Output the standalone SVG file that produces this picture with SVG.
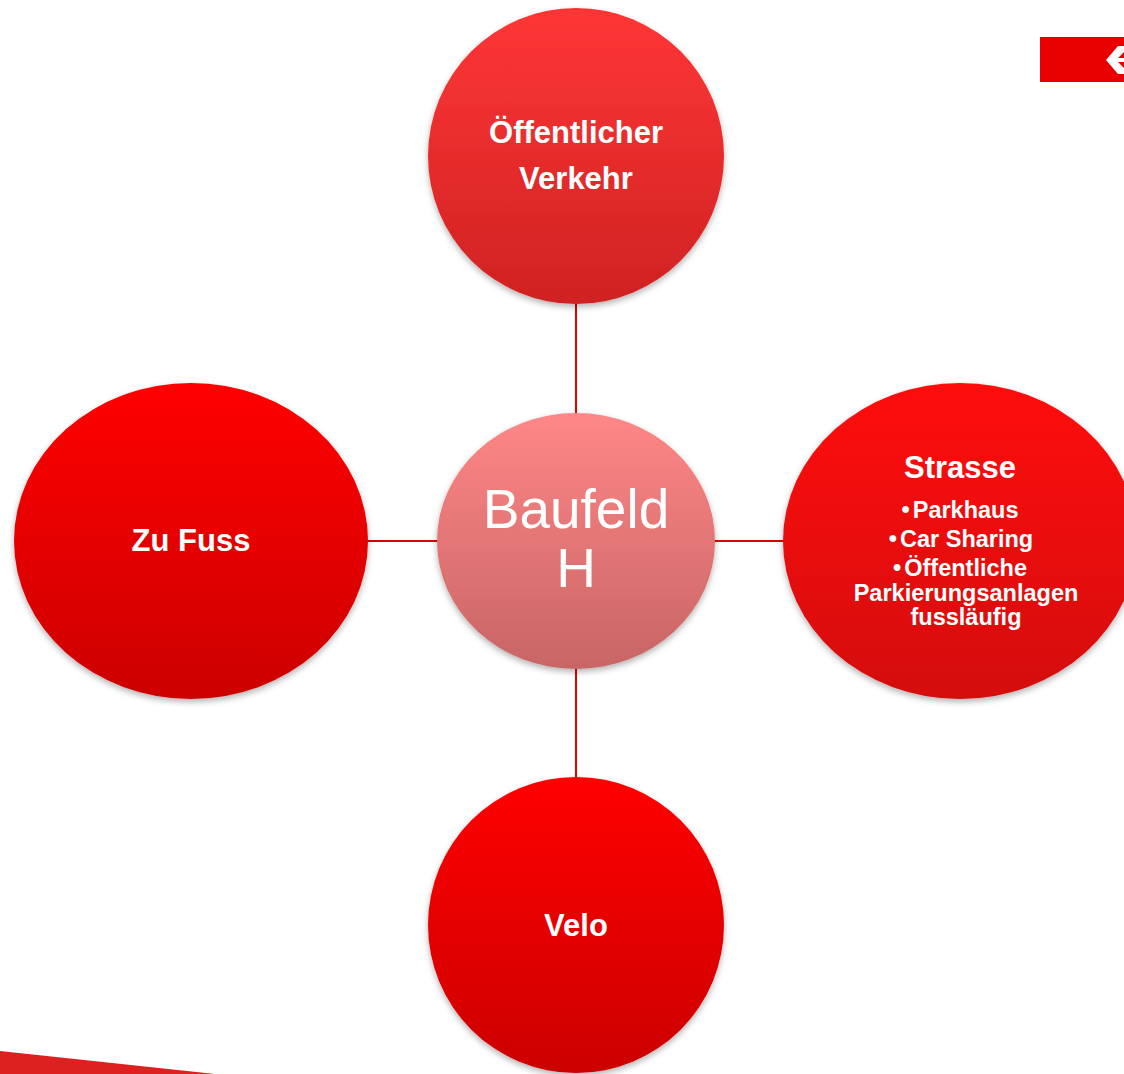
<svg xmlns="http://www.w3.org/2000/svg" width="1124" height="1074" viewBox="0 0 1124 1074">
<defs>
<linearGradient id="gTop" x1="0" y1="0" x2="0" y2="1"><stop offset="0" stop-color="#ff3636"/><stop offset="1" stop-color="#cf2222"/></linearGradient>
<linearGradient id="gCenter" x1="0" y1="0" x2="0" y2="1"><stop offset="0" stop-color="#ff8787"/><stop offset="1" stop-color="#c86565"/></linearGradient>
<linearGradient id="gRed" x1="0" y1="0" x2="0" y2="1"><stop offset="0" stop-color="#ff0505"/><stop offset="1" stop-color="#cc0000"/></linearGradient>
<linearGradient id="gRight" x1="0" y1="0" x2="0" y2="1"><stop offset="0" stop-color="#ff1010"/><stop offset="1" stop-color="#d40808"/></linearGradient>
<filter id="sh" x="-10%" y="-10%" width="120%" height="125%"><feDropShadow dx="0" dy="3" stdDeviation="3" flood-color="#000" flood-opacity="0.3"/></filter>
</defs>
<style>
.conn line{stroke:#e00000;stroke-width:2}
.t{font-family:"Liberation Sans",Arial,sans-serif;fill:#fff;text-anchor:middle}
.b{font-weight:bold}
.h{font-size:31px}
.s{font-size:23.5px}
</style>
<rect width="1124" height="1074" fill="#fff"/>
<polygon points="0,1051 215,1074 0,1074" fill="#dd2020"/>
<g id="badge">
<rect x="1040" y="37" width="84" height="45" fill="#e80000"/>
<polygon points="1106,60 1118,46 1124,46 1124,52 1118,58 1124,58 1124,62 1118,62 1124,68 1124,74 1118,74" fill="#fff"/>
</g>
<g class="conn" id="connectors">
<line x1="576" y1="303" x2="576" y2="414"/>
<line x1="576" y1="668" x2="576" y2="778"/>
<line x1="367" y1="541" x2="438" y2="541"/>
<line x1="714" y1="541" x2="784" y2="541"/>
</g>
<g id="node-oev">
<circle cx="576" cy="156" r="148" fill="url(#gTop)" filter="url(#sh)"/>
<text class="t b h" x="576" y="143">Öffentlicher</text>
<text class="t b h" x="576" y="189">Verkehr</text>
</g>
<g id="node-fuss">
<ellipse cx="191" cy="541" rx="177" ry="158" fill="url(#gRed)" filter="url(#sh)"/>
<text class="t b h" x="191" y="551">Zu Fuss</text>
</g>
<g id="node-strasse">
<ellipse cx="960" cy="541" rx="177" ry="158" fill="url(#gRight)" filter="url(#sh)"/>
<text class="t b h" x="960" y="478">Strasse</text>
<text class="t b s" x="960" y="518">•<tspan dx="3">Parkhaus</tspan></text>
<text class="t b s" x="961" y="547">•<tspan dx="3">Car Sharing</tspan></text>
<text class="t b s" x="960" y="576">•<tspan dx="3">Öffentliche</tspan></text>
<text class="t b s" x="966" y="601">Parkierungsanlagen</text>
<text class="t b s" x="966" y="625">fussläufig</text>
</g>
<g id="node-velo">
<circle cx="576" cy="925" r="148" fill="url(#gRed)" filter="url(#sh)"/>
<text class="t b h" x="576" y="936">Velo</text>
</g>
<g id="node-baufeld">
<ellipse cx="576" cy="541" rx="139" ry="128" fill="url(#gCenter)" filter="url(#sh)"/>
<text class="t" x="576" y="528" font-size="55">Baufeld</text>
<text class="t" x="576" y="587" font-size="55">H</text>
</g>
</svg>
